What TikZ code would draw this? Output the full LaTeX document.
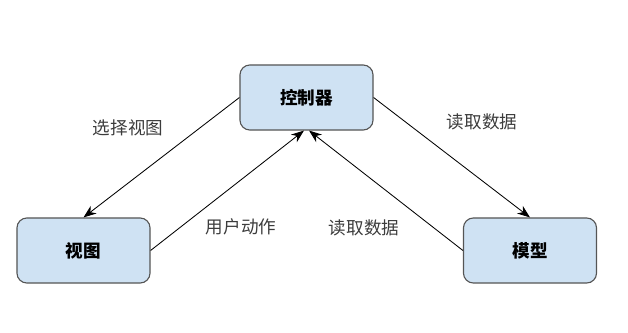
\documentclass[tikz,border=0pt]{standalone}
\usepackage{fontspec}
\usepackage{tikz}
\usepackage{xcolor}
\usetikzlibrary{arrows.meta, positioning}
\newfontfamily\cjk{Noto Sans CJK SC}
\definecolor{boxblue}{RGB}{207,226,243}
\definecolor{boxedge}{RGB}{85,85,85}
\definecolor{labgray}{RGB}{60,60,60}

\begin{document}
\begin{tikzpicture}[x=0.025cm, y=-0.025cm,
    part/.style={rounded corners=7pt, draw=boxedge, fill=boxblue, line width=0.8pt,
                 minimum width=3.325cm, minimum height=1.625cm, align=center,
                 font=\cjk\bfseries\fontsize{12.5}{15}\selectfont},
    line/.style={-{Stealth[length=3.2mm, width=2.4mm]}, line width=0.6pt, draw=black},
    lab/.style={font=\cjk\fontsize{12.5}{15}\selectfont, text=labgray, inner sep=1pt}]
    \useasboundingbox (0,0) rectangle (628,333);

    % Parts
    \node[part] (ctrl)  at (306.5,97.5)  {控制器};
    \node[part] (view)  at (83.5,250.5)  {视图};
    \node[part] (model) at (530,250.5)   {模型};

    % Connectors
    \draw[line] (ctrl.west) -- (view.north);
    \draw[line] (view.east) -- ([xshift=-1.8pt]ctrl.south);
    \draw[line] (ctrl.east) -- (model.north);
    \draw[line] (model.west) -- ([xshift=1.8pt]ctrl.south);

    % Labels
    \node[lab] (selview) at (128,128) {选择视图};
    \node[lab] (readtop) at (482,122) {读取数据};
    \node[lab] (useract) at (241,227) {用户动作};
    \node[lab] (readmid) at (364,228) {读取数据};
\end{tikzpicture}
\end{document}
